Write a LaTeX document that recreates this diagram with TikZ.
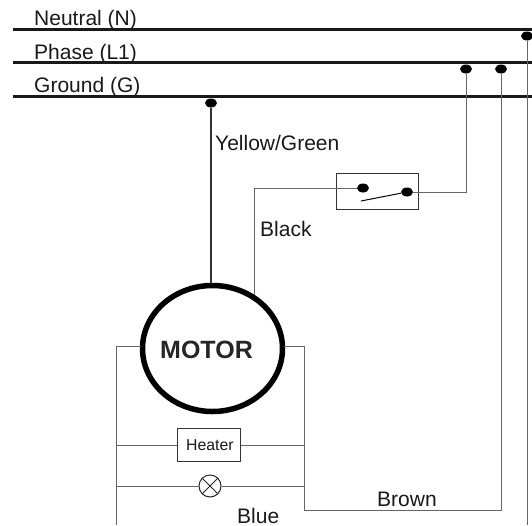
\documentclass[tikz,border=0pt]{standalone}
\usepackage{fontspec}
\setmainfont{Liberation Sans}
\usetikzlibrary{shapes.geometric}
\tikzset{
  bus/.style={line width=3pt,black!90},
  wire/.style={line width=1pt,black!60},
  gwire/.style={line width=1.6pt,black!80},
  thin box/.style={draw=black!80,line width=1pt,fill=white,inner sep=0pt},
  junction/.style={ellipse,fill=black,minimum width=12pt,minimum height=9pt,inner sep=0pt},
  lbl/.style={font=\fontsize{21}{23}\selectfont,inner sep=0pt,anchor=base west,text=black!90},
}
\begin{document}
\begin{tikzpicture}[x=1pt,y=-1pt]
\useasboundingbox (0,0) rectangle (532,525);
% bus bars
\coordinate (nL) at (13,29.5); \coordinate (nR) at (532,29.5);
\coordinate (pL) at (13,62); \coordinate (pR) at (532,62);
\coordinate (gL) at (13,96.5); \coordinate (gR) at (532,96.5);
\draw[bus] (nL) -- (nR);
\draw[bus] (pL) -- (pR);
\draw[bus] (gL) -- (gR);
% labels
\node[lbl] (tn) at (34,25) {Neutral (N)};
\node[lbl] (tp) at (34,59) {Phase (L1)};
\node[lbl] (tg) at (34,92.5) {Ground (G)};
\node[lbl] (ty) at (215,150) {Yellow/Green};
\node[lbl] (tk) at (260,236) {Black};
\node[lbl] (tr) at (377,506.5) {Brown};
\node[lbl] (tu) at (237,523.5) {Blue};
% junctions
\node[junction] (jg) at (211,103) {};
\node[junction] (js) at (466,69) {};
\node[junction] (jb) at (501,69) {};
\node[junction] (jn) at (527,36) {};
% motor
\node[draw=black,line width=5.5pt,ellipse,minimum width=140pt,minimum height=126pt,inner sep=0pt] (motor) at (212.5,348.5) {};
\node[font=\fontsize{25}{27}\selectfont\bfseries,text=black!85,inner sep=0pt,anchor=base west] (mtxt) at (160,358) {MOTOR};
% switch
\node[thin box,minimum width=82pt,minimum height=36pt] (swbox) at (377,191) {};
\node[junction] (swl) at (363,188) {};
\node[junction] (swr) at (407,192) {};
\coordinate (blade) at (361,201);
\draw[line width=1pt,black] (blade) -- (swr);
% heater and lamp
\node[thin box,minimum width=63pt,minimum height=33pt] (heater) at (208.5,445) {};
\node[font=\fontsize{15.8}{17}\selectfont,text=black!90,inner sep=0pt,anchor=base west] (htxt) at (186,450.5) {Heater};
\node[draw=black!85,line width=1pt,circle,minimum size=22pt,inner sep=0pt,fill=white] (lamp) at (210,486) {};
\draw[line width=.8pt,black!85] (lamp.north west) -- (lamp.south east) (lamp.north east) -- (lamp.south west);
% wires
\coordinate (mt) at (254,295);
\coordinate (ml) at (141,346); \coordinate (mr) at (284,346);
\coordinate (lb) at (116,525); \coordinate (nb) at (527,525);
\draw[gwire] (jg) -- (211,283);
\draw[wire] (js) |- (swr);
\draw[wire] (swl) -| (mt);
\draw[wire] (jn) -- (nb);
\draw[wire] (mr) -- (304,346) -- (304,510) -- (501,510) -- (jb);
\draw[wire] (ml) -- (116,346) -- (lb);
\draw[wire] (116,445) -- (heater.west);
\draw[wire] (heater.east) -- (304,445);
\draw[wire] (116,486) -- (lamp.west);
\draw[wire] (lamp.east) -- (304,486);
\end{tikzpicture}
\end{document}
